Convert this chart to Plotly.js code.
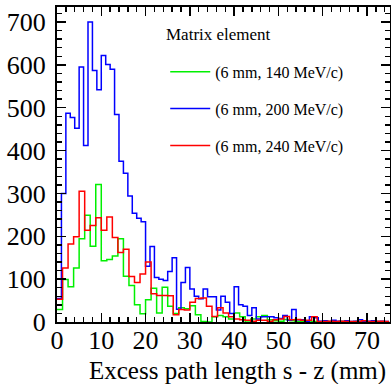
<!DOCTYPE html>
<html>
<head>
<meta charset="utf-8">
<script src="https://cdn.plot.ly/plotly-3.0.1.min.js"></script>
<style>html,body{margin:0;padding:0;background:#fff;}#chart{width:391px;height:384px;}</style>
</head>
<body>
<div id="chart"></div>
<script>
// Histogram contents (counts per bin)
const seriesNames = ["(6 mm, 140 MeV/c)", "(6 mm, 200 MeV/c)", "(6 mm, 240 MeV/c)"];
const seriesColors = ["#00f000", "#0000ff", "#ff0000"];
const binWidths = [1.25, 1.0, 1.25]; // mm

const counts140 = [29,99,82,126,194,249,177,321,143,146, 154,194,107,85,40,19,52,79,21,81,
  37,20,33,31,38,17,1,0,12,15, 12,7,21,12,0,7,12,15,5,3, 2,6,3,1,1,0,1,0,2,0, 0,1,0,0,1,0,0,1,0,0];
const counts200 = [55,300,487,477,452,595,412,700,587,542,622,601,590,484,375,347,294,
  254,242,234,130,176,104,100,97,118,150,30,92,127,77,60,54,77,59,59,
  28,60,46,20,82,40,37,15,33,7,12,12,12,10,8,15,4,29,
  5,5,2,12,10,2,3,1,4,2,1,3,1,2,5,1,2,3,1,2,1];
const counts240 = [53,126,182,199,305,214,225,243,214,245, 197,162,170,106,92,112,140,66,62,62,
  61,17,29,28,46,55,56,37,13,33, 21,12,7,5,4,2,4,4,2,5, 7,13,5,6,4,4,12,1,1,2, 1,2,1,1,1,3,1,1,2,1];

const legendTitle = "Matrix element";
const xTitle = "Excess path length s - z (mm)";

const allCounts = [counts140, counts200, counts240];

function stepTrace(counts, w, name, color) {
  const x = counts.map((_, i) => i * w).concat([counts.length * w]);
  const y = counts.concat([counts[counts.length - 1]]);
  return {
    type: 'scatter', mode: 'lines', x: x, y: y, name: name,
    line: {shape: 'hv', color: color, width: 1.5},
    legendgroup: name, hoverinfo: 'skip'
  };
}

const data = allCounts.map((c, i) => stepTrace(c, binWidths[i], seriesNames[i], seriesColors[i]));

const serif = "'Liberation Serif', 'Times New Roman', serif";
const axisCommon = {
  showgrid: false, zeroline: false, showline: true, linecolor: 'black', linewidth: 2,
  mirror: 'ticks', ticks: 'inside', ticklen: 9, tickwidth: 1.5, tickcolor: 'black',
  tickfont: {family: serif, size: 26, color: 'black'}
};

const layout = {
  width: 391, height: 384,
  margin: {l: 57, r: 1, t: 7, b: 62, pad: 0},
  paper_bgcolor: 'white', plot_bgcolor: 'white',
  showlegend: true,
  xaxis: Object.assign({}, axisCommon, {
    range: [0, 75.2], tick0: 0, dtick: 10, ticklabelstandoff: -6,
    minor: {dtick: 2, ticks: 'inside', ticklen: 5, tickwidth: 1.5, tickcolor: 'black', showgrid: false}
  }),
  yaxis: Object.assign({}, axisCommon, {
    range: [0, 735], tick0: 0, dtick: 100, ticklabelstandoff: 4,
    minor: {dtick: 20, ticks: 'inside', ticklen: 5, tickwidth: 1.5, tickcolor: 'black', showgrid: false}
  }),
  legend: {
    x: 0.325, y: 0.848, xanchor: 'left', yanchor: 'top',
    bgcolor: 'rgba(0,0,0,0)', borderwidth: 0,
    traceorder: 'grouped', tracegroupgap: 13, itemwidth: 40,
    font: {family: serif, size: 16, color: 'black'}
  },
  annotations: [{
    xref: 'paper', yref: 'paper', x: 0.994, y: -0.154, xanchor: 'right', yanchor: 'middle',
    text: xTitle, showarrow: false, font: {family: serif, size: 25, color: 'black'}
  }, {
    xref: 'paper', yref: 'paper', x: 0.321, y: 0.914, xanchor: 'left', yanchor: 'middle',
    text: legendTitle, showarrow: false, font: {family: serif, size: 17, color: 'black'}
  }]
};

Plotly.newPlot('chart', data, layout, {displayModeBar: false, staticPlot: true});
</script>
</body>
</html>
